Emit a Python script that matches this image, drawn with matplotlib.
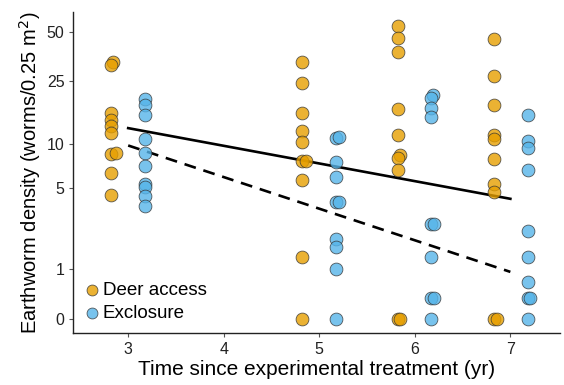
import numpy as np
import matplotlib
matplotlib.use("Agg")
import matplotlib.pyplot as plt

plt.rcParams['font.family'] = ['Liberation Sans', 'DejaVu Sans']

# ---- data ----
deer_x = [2.84, 2.82, 2.82, 2.82, 2.82, 2.82, 2.82, 2.87, 2.82, 2.82,
          4.82, 4.82, 4.82, 4.82, 4.82, 4.82, 4.86, 4.82, 4.82, 4.82,
          5.82, 5.82, 5.82, 5.82, 5.82, 5.84, 5.82, 5.82, 5.82, 5.85,
          6.83, 6.83, 6.83, 6.83, 6.83, 6.83, 6.83, 6.83, 6.83, 6.86]
deer_y = [33.0, 31.5, 15.8, 14.3, 13.1, 11.9, 8.6, 8.7, 6.4, 4.5,
          33.1, 24.4, 15.8, 12.2, 10.4, 7.7, 7.7, 5.7, 1.35, 0.0,
          54.9, 46.0, 38.1, 16.8, 11.4, 8.5, 8.1, 6.7, 0.0, 0.0,
          45.6, 27.0, 17.7, 11.5, 10.8, 8.0, 5.4, 4.7, 0.0, 0.0]

excl_x = [3.18, 3.18, 3.18, 3.18, 3.18, 3.18, 3.18, 3.18, 3.18, 3.18,
          5.18, 5.21, 5.18, 5.18, 5.18, 5.21, 5.18, 5.18, 5.18, 5.18,
          6.19, 6.17, 6.17, 6.17, 6.17, 6.20, 6.17, 6.17, 6.20, 6.17,
          7.18, 7.18, 7.18, 7.18, 7.18, 7.18, 7.18, 7.18, 7.21, 7.18]
excl_y = [19.4, 17.7, 15.3, 10.8, 8.7, 7.1, 5.4, 5.1, 4.4, 3.7,
          11.0, 11.2, 7.65, 6.0, 4.0, 4.0, 2.0, 1.7, 1.0, 0.0,
          20.6, 19.8, 17.1, 15.0, 2.7, 2.7, 1.33, 0.34, 0.34, 0.0,
          15.4, 10.5, 9.5, 6.7, 2.36, 1.33, 0.67, 0.34, 0.34, 0.0]

# fitted trend lines (end points)
fit_x = [3.0, 7.0]
deer_fit_y = [12.7, 4.2]
excl_fit_y = [9.8, 0.91]

yticks = [0, 1, 5, 10, 25, 50]
xticks = [3, 4, 5, 6, 7]

orange = '#E69F00'
blue = '#56B4E9'

fig = plt.figure(figsize=(5.64, 3.85), dpi=100)
ax = fig.add_axes([0.129, 0.134, 0.864, 0.836])
ax.set_yscale('function', functions=(np.log1p, np.expm1))

ax.scatter(deer_x, deer_y, s=85, facecolor=orange, edgecolor='#333333',
           linewidth=0.6, alpha=0.8, zorder=3, label='Deer access')
ax.scatter(excl_x, excl_y, s=85, facecolor=blue, edgecolor='#333333',
           linewidth=0.6, alpha=0.8, zorder=3, label='Exclosure')

ax.plot(fit_x, deer_fit_y, color='black', lw=1.9, zorder=2)
ax.plot(fit_x, excl_fit_y, color='black', lw=1.9, ls=(0, (4.5, 3)), zorder=2)

ax.set_xlim(2.42, 7.52)
ax.set_ylim(-0.178, 66.7)
ax.set_xticks(xticks)
ax.set_yticks(yticks)
ax.set_yticklabels([str(t) for t in yticks])
ax.tick_params(axis='both', labelsize=11.5, length=3, width=0.8,
               color='#555555', labelcolor='#222222', pad=3)

for s in ['top', 'right']:
    ax.spines[s].set_visible(False)
for s in ['left', 'bottom']:
    ax.spines[s].set_linewidth(1.0)
    ax.spines[s].set_color('#222222')

ax.set_xlabel('Time since experimental treatment (yr)', fontsize=15, labelpad=2)
ax.set_ylabel('Earthworm density (worms/0.25 m$^2$)', fontsize=14.5, labelpad=3)

leg = ax.legend(loc='lower left', frameon=False, fontsize=13.5,
                handletextpad=-0.1, borderaxespad=0.0, labelspacing=0.3,
                markerscale=0.85, handlelength=1.4, borderpad=0.0,
                bbox_to_anchor=(0.012, 0.035))

fig.savefig('out.png', dpi=100)
